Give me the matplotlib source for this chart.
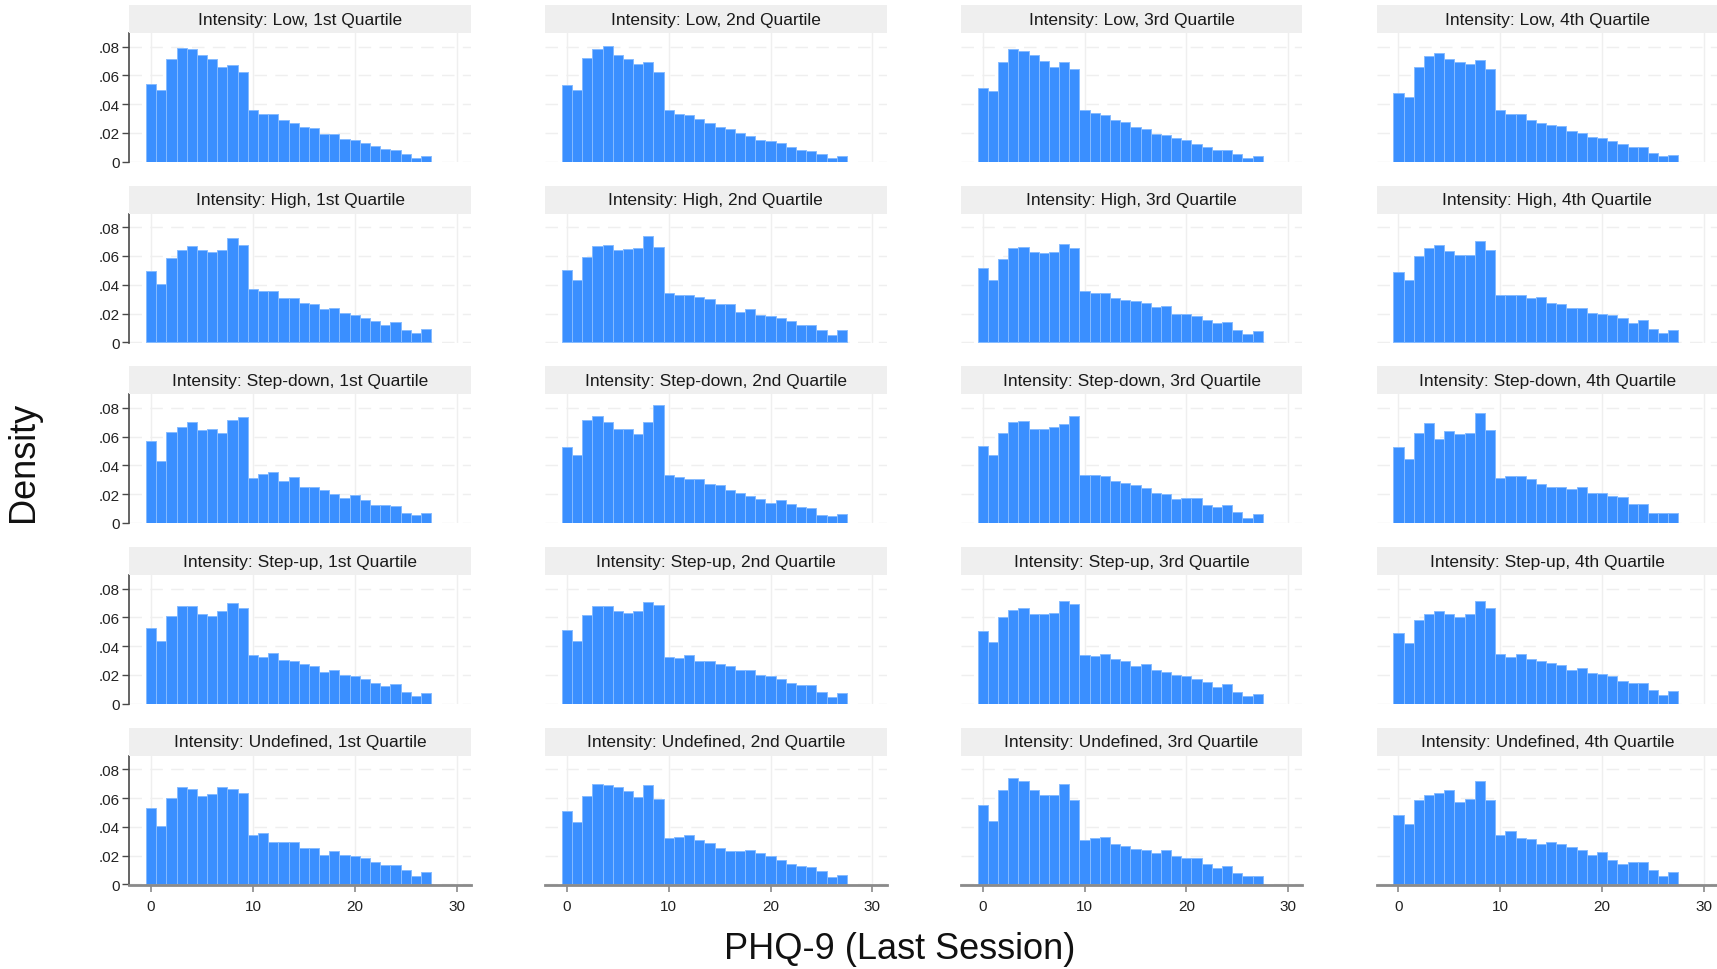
import matplotlib
matplotlib.use("Agg")
import matplotlib.pyplot as plt
from matplotlib.patches import Rectangle
import numpy as np

plt.rcParams["font.family"] = ["Liberation Sans", "DejaVu Sans"]

# PHQ-9 scores (bin centres) and panel labels
phq_scores = list(range(28))
intensities = ["Low", "High", "Step-down", "Step-up", "Undefined"]
quartiles = ["1st Quartile", "2nd Quartile", "3rd Quartile", "4th Quartile"]

# densities, one list per panel
low_q1 = [0.054, 0.050, 0.071, 0.079, 0.078, 0.074, 0.071, 0.066, 0.067, 0.062, 0.036, 0.033, 0.033, 0.029,
          0.027, 0.024, 0.023, 0.019, 0.019, 0.016, 0.015, 0.013, 0.0105, 0.009, 0.008, 0.005, 0.0026, 0.004]
low_q2 = [0.053, 0.050, 0.072, 0.078, 0.0805, 0.074, 0.071, 0.068, 0.0695, 0.0625, 0.0356, 0.0332, 0.0323, 0.0295,
          0.0267, 0.0243, 0.0225, 0.0201, 0.018, 0.0152, 0.014, 0.0129, 0.0103, 0.0082, 0.0075, 0.0051, 0.0023, 0.004]
low_q3 = [0.0515, 0.0489, 0.0695, 0.0781, 0.0772, 0.0742, 0.0699, 0.066, 0.0692, 0.0643, 0.036, 0.0339, 0.0327, 0.0292,
          0.0274, 0.0243, 0.0227, 0.0194, 0.0187, 0.0166, 0.015, 0.0124, 0.0103, 0.0077, 0.0077, 0.0051, 0.0023, 0.0037]
low_q4 = [0.0477, 0.0447, 0.0657, 0.0737, 0.0758, 0.0711, 0.0695, 0.0676, 0.0704, 0.0641, 0.0356, 0.0332, 0.0332, 0.0288,
          0.0267, 0.0255, 0.025, 0.0213, 0.0197, 0.0173, 0.0164, 0.0145, 0.0122, 0.0103, 0.0103, 0.0063, 0.004, 0.0044]

high_q1 = [0.0494, 0.0406, 0.0588, 0.0644, 0.0667, 0.0644, 0.0625, 0.0644, 0.0725, 0.0679, 0.0373, 0.0357, 0.0357, 0.0306,
           0.0306, 0.0275, 0.0266, 0.0229, 0.024, 0.0203, 0.0189, 0.0166, 0.0145, 0.0119, 0.0138, 0.0086, 0.0061, 0.0089]
high_q2 = [0.0504, 0.0434, 0.059, 0.0667, 0.0676, 0.0644, 0.0651, 0.0655, 0.0737, 0.066, 0.0341, 0.0329, 0.0327, 0.0315,
           0.0301, 0.0264, 0.0266, 0.0212, 0.0231, 0.0191, 0.018, 0.0166, 0.0149, 0.0119, 0.0119, 0.0086, 0.0049, 0.0082]
high_q3 = [0.0515, 0.0434, 0.0581, 0.0653, 0.0662, 0.063, 0.062, 0.0627, 0.0681, 0.0653, 0.0359, 0.0341, 0.0341, 0.0306,
           0.0294, 0.0289, 0.0275, 0.0243, 0.025, 0.0194, 0.0194, 0.018, 0.0156, 0.0133, 0.0138, 0.0086, 0.0056, 0.0077]
high_q4 = [0.0492, 0.0436, 0.0602, 0.0653, 0.0674, 0.0632, 0.0604, 0.0604, 0.0704, 0.0641, 0.0331, 0.0331, 0.0329, 0.0306,
           0.0313, 0.0275, 0.0266, 0.0238, 0.024, 0.0201, 0.0194, 0.0189, 0.0166, 0.0131, 0.0152, 0.0091, 0.0063, 0.0084]

stepdown_q1 = [0.0571, 0.0428, 0.0636, 0.0667, 0.0704, 0.0648, 0.0653, 0.0629, 0.0716, 0.0737, 0.0313, 0.0342, 0.0353, 0.0292,
               0.0318, 0.025, 0.0253, 0.0229, 0.0199, 0.0173, 0.0197, 0.0161, 0.0124, 0.0124, 0.0117, 0.0068, 0.0054, 0.0068]
stepdown_q2 = [0.0526, 0.0475, 0.0718, 0.0744, 0.0702, 0.0655, 0.065, 0.0622, 0.0702, 0.0819, 0.0337, 0.0318, 0.0304, 0.0309,
               0.0271, 0.0267, 0.0227, 0.0206, 0.0187, 0.0168, 0.0138, 0.0161, 0.0129, 0.0108, 0.0103, 0.0056, 0.0047, 0.0063]
stepdown_q3 = [0.0533, 0.0475, 0.0629, 0.0702, 0.0706, 0.0653, 0.0653, 0.0664, 0.069, 0.0742, 0.0337, 0.0337, 0.0327, 0.0295,
               0.0276, 0.0262, 0.0246, 0.0206, 0.0201, 0.0164, 0.0175, 0.0175, 0.0124, 0.0112, 0.0126, 0.0075, 0.0037, 0.0061]
stepdown_q4 = [0.0526, 0.0444, 0.0627, 0.0692, 0.0585, 0.0639, 0.0618, 0.0629, 0.0765, 0.0648, 0.0313, 0.0327, 0.0327, 0.0306,
               0.0269, 0.0253, 0.025, 0.0234, 0.025, 0.0206, 0.0211, 0.0187, 0.018, 0.0133, 0.0133, 0.007, 0.007, 0.007]

stepup_q1 = [0.0526, 0.0437, 0.0611, 0.0677, 0.0677, 0.0623, 0.0607, 0.0642, 0.0703, 0.0666, 0.0335, 0.0323, 0.0349, 0.0302,
             0.0297, 0.0274, 0.026, 0.0219, 0.0236, 0.0198, 0.0194, 0.0172, 0.0146, 0.0123, 0.0135, 0.0083, 0.0052, 0.0071]
stepup_q2 = [0.0514, 0.0439, 0.0614, 0.0682, 0.0677, 0.0642, 0.063, 0.0642, 0.0708, 0.0684, 0.0326, 0.0319, 0.0337, 0.03,
             0.03, 0.0274, 0.026, 0.0234, 0.0234, 0.0196, 0.0194, 0.0172, 0.0146, 0.0127, 0.0127, 0.008, 0.0047, 0.0071]
stepup_q3 = [0.0505, 0.043, 0.0602, 0.0654, 0.0668, 0.0625, 0.0623, 0.063, 0.0713, 0.0692, 0.0337, 0.0328, 0.0347, 0.0312,
             0.0297, 0.0264, 0.0278, 0.0236, 0.0222, 0.0196, 0.0194, 0.0172, 0.0149, 0.0118, 0.0135, 0.0083, 0.0054, 0.0068]
stepup_q4 = [0.0489, 0.0422, 0.0583, 0.0625, 0.0647, 0.0621, 0.0604, 0.0625, 0.0717, 0.0666, 0.0347, 0.0323, 0.0345, 0.0314,
             0.0297, 0.0281, 0.0271, 0.0234, 0.0248, 0.021, 0.0208, 0.0189, 0.0156, 0.0144, 0.0144, 0.0094, 0.0061, 0.0085]

undef_q1 = [0.0534, 0.0408, 0.0598, 0.0677, 0.0665, 0.0613, 0.0629, 0.0677, 0.0665, 0.0636, 0.0344, 0.0356, 0.0297, 0.0297,
            0.0292, 0.0256, 0.0256, 0.0207, 0.023, 0.0202, 0.0195, 0.018, 0.0157, 0.0138, 0.0138, 0.01, 0.0055, 0.0088]
undef_q2 = [0.051, 0.0434, 0.0613, 0.07, 0.0691, 0.0677, 0.0648, 0.061, 0.0689, 0.0594, 0.032, 0.0328, 0.0342, 0.0306,
            0.0285, 0.0254, 0.023, 0.0233, 0.0237, 0.0218, 0.0195, 0.0171, 0.014, 0.0128, 0.0119, 0.009, 0.0052, 0.0066]
undef_q3 = [0.0551, 0.0439, 0.0653, 0.0741, 0.0717, 0.0658, 0.0624, 0.0624, 0.07, 0.0586, 0.0306, 0.032, 0.0332, 0.028,
            0.0268, 0.0245, 0.0242, 0.0218, 0.0242, 0.0197, 0.0185, 0.018, 0.0142, 0.0114, 0.0131, 0.0081, 0.0055, 0.0055]
undef_q4 = [0.0484, 0.042, 0.0589, 0.0624, 0.0636, 0.0655, 0.0575, 0.0594, 0.0717, 0.0589, 0.0344, 0.0368, 0.0323, 0.0318,
            0.0278, 0.0294, 0.028, 0.0259, 0.0242, 0.0207, 0.0226, 0.0171, 0.0142, 0.0154, 0.0154, 0.0102, 0.0055, 0.0088]

panels = [
    [low_q1, low_q2, low_q3, low_q4],
    [high_q1, high_q2, high_q3, high_q4],
    [stepdown_q1, stepdown_q2, stepdown_q3, stepdown_q4],
    [stepup_q1, stepup_q2, stepup_q3, stepup_q4],
    [undef_q1, undef_q2, undef_q3, undef_q4],
]

y_ticks = [0, 0.02, 0.04, 0.06, 0.08]
y_ticklabels = ["0", ".02", ".04", ".06", ".08"]
x_ticks = [0, 10, 20, 30]

W, H = 1717, 970
fig = plt.figure(figsize=(W / 100, H / 100), dpi=100)

bar_color = "#3a8fff"
edge_color = "#86bbff"
grid_color = "#efefef"

ax_w, ax_h = 341.6, 129.0
strip_h = 28.0

for r, intensity in enumerate(intensities):
    for c, quart in enumerate(quartiles):
        left = 129.2 + c * 415.8
        bottom = 163.0 + r * 180.7
        ax = fig.add_axes([left / W, 1 - bottom / H, ax_w / W, ax_h / H])
        ax.set_xlim(-2.15, 31.4)
        ax.set_ylim(-0.0003, 0.0894)

        for yv in y_ticks:
            ax.axhline(yv, color=grid_color, lw=1.0, dashes=(9, 6), zorder=0)
        for xv in x_ticks:
            ax.axvline(xv, color=grid_color, lw=1.0, zorder=0)

        ax.bar(phq_scores, panels[r][c], width=1.0, color=bar_color,
               edgecolor=edge_color, linewidth=0.7, zorder=2)

        for s in ax.spines.values():
            s.set_visible(False)

        if c == 0:
            ax.spines["left"].set_visible(True)
            ax.spines["left"].set_color("#4a4a4a")
            ax.spines["left"].set_linewidth(1.2)
            ax.set_yticks(y_ticks)
            ax.set_yticklabels(y_ticklabels, fontsize=11, color="#222222")
            ax.tick_params(axis="y", length=5, width=1.0, color="#4a4a4a", pad=2)
        else:
            ax.set_yticks([])

        if r == 4:
            ax.spines["bottom"].set_visible(True)
            ax.spines["bottom"].set_color("#8a8a8a")
            ax.spines["bottom"].set_linewidth(2.0)
            ax.set_xticks(x_ticks)
            ax.set_xticklabels([str(v) for v in x_ticks], fontsize=11, color="#222222")
            ax.tick_params(axis="x", length=5, width=1.2, color="#8a8a8a", pad=5)
        else:
            ax.set_xticks([])

        # grey title strip above each panel
        ax.add_patch(Rectangle((0, 1), 1, strip_h / ax_h, transform=ax.transAxes,
                               facecolor="#efefef", edgecolor="none", clip_on=False, zorder=3))
        ax.text(0.5, 1 + strip_h / ax_h / 2, f"Intensity: {intensity}, {quart}",
                transform=ax.transAxes, ha="center", va="center", fontsize=12.5,
                color="#1a1a1a", zorder=4)

fig.text(24 / W, 1 - 462 / H, "Density", rotation=90, ha="center", va="center",
         fontsize=26, color="#111111")
fig.text(900 / W, 1 - 950 / H, "PHQ-9 (Last Session)", ha="center", va="center",
         fontsize=26, color="#111111")

fig.savefig("out.png", dpi=100, facecolor="white")
